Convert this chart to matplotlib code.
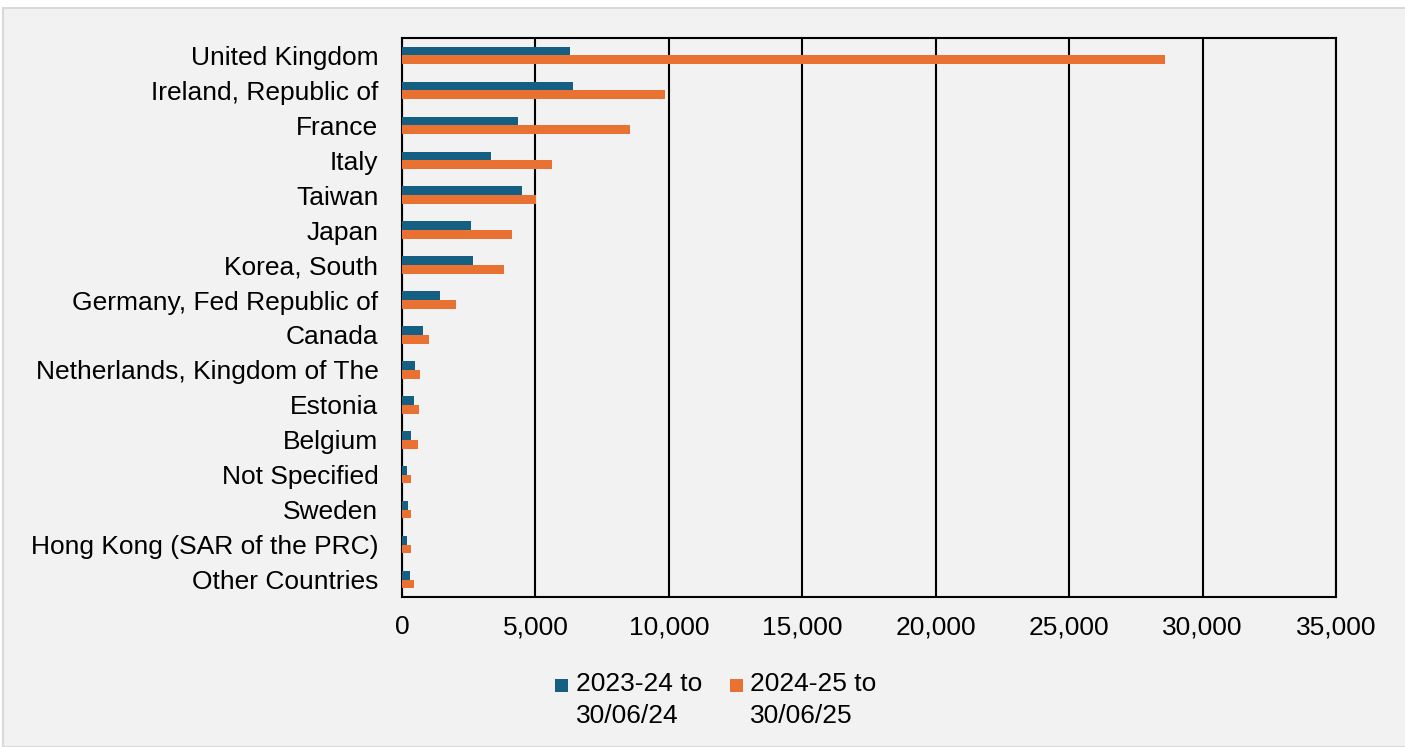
import matplotlib
matplotlib.use('Agg')
import matplotlib.pyplot as plt
from matplotlib.patches import Rectangle
import numpy as np

# data
countries = ['United Kingdom', 'Ireland, Republic of', 'France', 'Italy', 'Taiwan',
             'Japan', 'Korea, South', 'Germany, Fed Republic of', 'Canada',
             'Netherlands, Kingdom of The', 'Estonia', 'Belgium', 'Not Specified',
             'Sweden', 'Hong Kong (SAR of the PRC)', 'Other Countries']
vals_2324 = [6300, 6400, 4350, 3320, 4500, 2590, 2650, 1410, 800, 500, 440, 350, 200, 240, 200, 310]
vals_2425 = [28600, 9860, 8560, 5635, 5035, 4120, 3810, 2025, 1000, 675, 640, 590, 350, 340, 340, 460]
series_labels = [['2023-24 to', '30/06/24'], ['2024-25 to', '30/06/25']]
xticks = [0, 5000, 10000, 15000, 20000, 25000, 30000, 35000]

BLUE = '#156082'
ORANGE = '#E97132'
BG = '#f2f2f2'
FS = 19

plt.rcParams['font.family'] = ['Liberation Sans', 'DejaVu Sans']

W, H = 1405, 747
fig = plt.figure(figsize=(W / 100, H / 100), dpi=100, facecolor='white')

# chart area panel
fig.patches.append(Rectangle((3 / W, 0), 1.2, (H - 8) / H, transform=fig.transFigure,
                             facecolor=BG, edgecolor='#d9d9d9', linewidth=1.5, zorder=-10))

ax = fig.add_axes([402 / W, (H - 597) / H, (1336 - 402) / W, (597 - 38) / H])
ax.set_facecolor(BG)

y = np.arange(len(countries))
h = 0.25
ax.barh(y - h / 2, vals_2324, height=h, color=BLUE, zorder=3)
ax.barh(y + h / 2, vals_2425, height=h, color=ORANGE, zorder=3)

ax.set_ylim(len(countries) - 0.5, -0.5)
ax.set_xlim(0, 35000)
ax.set_xticks(xticks)
ax.set_xticklabels([f'{v:,}' for v in xticks])
ax.set_yticks(y)
ax.set_yticklabels(countries)
ax.tick_params(axis='both', length=0, labelsize=FS, colors='black')
ax.tick_params(axis='y', pad=17)
ax.tick_params(axis='x', pad=13)

ax.grid(axis='x', color='black', linewidth=1.5, zorder=1)
for s in ax.spines.values():
    s.set_color('black')
    s.set_linewidth(1.5)

# legend drawn by hand so the swatch sits beside the first text line
for (x_sw, x_txt), col, lines in zip([(555, 576), (730, 750)], [BLUE, ORANGE], series_labels):
    fig.patches.append(Rectangle((x_sw / W, 1 - 692 / H), 13 / W, 13 / H,
                                 transform=fig.transFigure, facecolor=col, edgecolor='none'))
    fig.text(x_txt / W, 1 - 691 / H, lines[0], fontsize=FS, va='baseline', ha='left')
    fig.text(x_txt / W, 1 - 723 / H, lines[1], fontsize=FS, va='baseline', ha='left')

fig.savefig('out.png', dpi=100, facecolor='white')
